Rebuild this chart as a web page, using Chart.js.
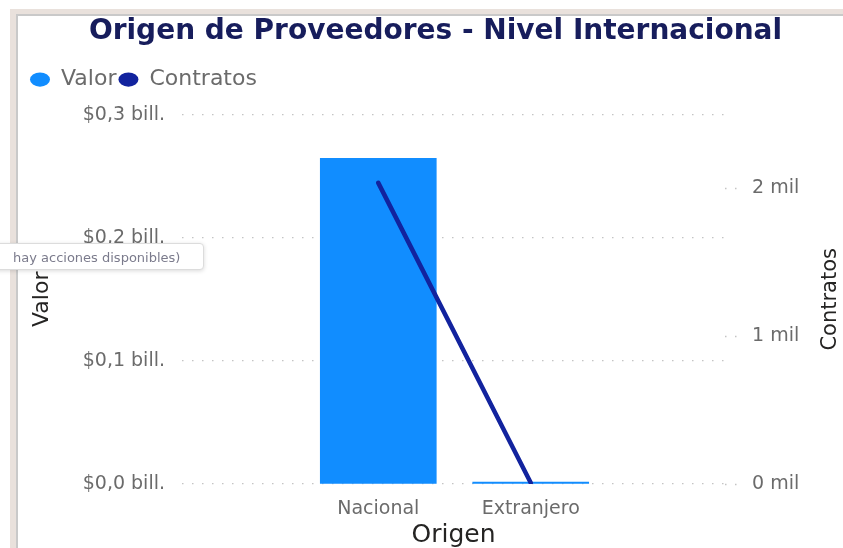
<!DOCTYPE html>
<html lang="es">
<head>
    <meta charset="UTF-8">
    <title>Origen de Proveedores - Nivel Internacional</title>
    <style>
        body {
            margin: 0;
            width: 843px;
            height: 548px;
            overflow: hidden;
            background: #ffffff;
            font-family: "DejaVu Sans", sans-serif;
            position: relative;
        }

        /* marco del visual */
        .marco {
            position: absolute;
            left: 10px;
            top: 9px;
            width: 900px;
            height: 600px;
            border-left: 6px solid #e9e1dc;
            border-top: 5px solid #e9e1dc;
        }

        .marco-interior {
            width: 100%;
            height: 100%;
            border-left: 2px solid #c9c9c9;
            border-top: 2px solid #c9c9c9;
        }

        #origen {
            position: absolute;
            left: 0;
            top: 0;
        }

        /* resto de un tooltip de Power BI */
        .aviso {
            position: absolute;
            left: -30px;
            top: 243px;
            width: 234px;
            height: 27px;
            background: #fff;
            border: 1px solid #dcdcdc;
            border-radius: 4px;
            box-shadow: 0 1px 4px rgba(0, 0, 0, 0.15);
            color: #7b7b8c;
            font-size: 13px;
            line-height: 27px;
            box-sizing: border-box;
            padding-left: 42px;
            white-space: nowrap;
        }
    </style>
    <script src="https://cdn.jsdelivr.net/npm/chart.js"></script>
</head>
<body>
    <div class="marco"><div class="marco-interior"></div></div>
    <canvas id="origen" width="843" height="548"></canvas>
    <div class="aviso">hay acciones disponibles)</div>

    <script>
        // Datos
        const origenes = ['Nacional', 'Extranjero'];
        const valor = [264.4e9, 1.5e9];      // pesos
        const contratos = [2038, 8];

        const ticksValor = [0, 0.1e12, 0.2e12, 0.3e12];
        const ticksContratos = [0, 1000, 2000];

        const AZUL = '#118DFF';
        const AZUL_OSCURO = '#12239E';
        const GRIS = '#6b6b6b';

        // titulo del eje derecho, leido de abajo hacia arriba como en Power BI
        const tituloDerecho = {
            id: 'tituloDerecho',
            afterDraw(chart) {
                const ctx = chart.ctx;
                const area = chart.chartArea;
                ctx.save();
                ctx.translate(831, (area.top + area.bottom) / 2);
                ctx.rotate(-Math.PI / 2);
                ctx.fillStyle = '#252423';
                ctx.font = '21px "DejaVu Sans"';
                ctx.textAlign = 'center';
                ctx.textBaseline = 'middle';
                ctx.fillText('Contratos', 0, 0);
                ctx.restore();
            }
        };

        // mas espacio debajo de la leyenda
        const espacioLeyenda = {
            id: 'espacioLeyenda',
            beforeInit(chart) {
                const fitOriginal = chart.legend.fit;
                chart.legend.fit = function () {
                    fitOriginal.bind(chart.legend)();
                    this.height += 14;
                };
            }
        };

        const ctx = document.getElementById('origen').getContext('2d');
        const grafico = new Chart(ctx, {
            data: {
                labels: origenes,
                datasets: [{
                    type: 'bar',
                    label: 'Valor',
                    data: valor.map((v, i) => ({ x: i, y: v })),
                    backgroundColor: AZUL,
                    borderWidth: 0,
                    barThickness: 116,
                    yAxisID: 'y',
                    order: 2
                }, {
                    type: 'line',
                    label: 'Contratos',
                    data: contratos.map((v, i) => ({ x: i, y: v })),
                    borderColor: AZUL_OSCURO,
                    backgroundColor: AZUL_OSCURO,
                    borderWidth: 4.5,
                    borderCapStyle: 'round',
                    pointRadius: 0,
                    yAxisID: 'y1',
                    order: 1
                }]
            },
            options: {
                responsive: false,
                animation: false,
                layout: {
                    padding: { left: 28, right: 0, top: 0, bottom: 0 }
                },
                plugins: {
                    title: {
                        display: true,
                        text: 'Origen de Proveedores - Nivel Internacional',
                        color: '#171d5c',
                        font: { family: 'DejaVu Sans', size: 28, weight: 'bold' },
                        padding: { top: 15, bottom: 18 }
                    },
                    legend: {
                        align: 'start',
                        labels: {
                            usePointStyle: true,
                            pointStyle: 'circle',
                            pointStyleWidth: 20,
                            boxHeight: 10,
                            padding: 2,
                            color: GRIS,
                            font: { family: 'DejaVu Sans', size: 22 },
                            sort: (a, b) => a.datasetIndex - b.datasetIndex,
                            generateLabels(chart) {
                                const items = Chart.defaults.plugins.legend.labels.generateLabels(chart);
                                items.forEach(it => { it.lineWidth = 0; });
                                return items;
                            }
                        }
                    },
                    tooltip: { enabled: false }
                },
                scales: {
                    x: {
                        type: 'linear',
                        offset: false,
                        min: -1.2876,
                        max: 2.2745,
                        grid: { display: false },
                        border: { display: false },
                        afterBuildTicks(scale) {
                            scale.ticks = origenes.map((c, i) => ({ value: i }));
                        },
                        afterFit(scale) {
                            scale.height = 548 - 484;
                        },
                        ticks: {
                            padding: 6,
                            maxRotation: 0,
                            color: GRIS,
                            font: { family: 'DejaVu Sans', size: 19 },
                            callback: v => origenes[v]
                        },
                        title: {
                            display: true,
                            text: 'Origen',
                            color: '#252423',
                            font: { family: 'DejaVu Sans', size: 25, lineHeight: 1 },
                            padding: { top: 0, bottom: 0 }
                        }
                    },
                    y: {
                        position: 'left',
                        min: 0,
                        max: 0.3e12,
                        afterBuildTicks(scale) {
                            scale.ticks = ticksValor.map(v => ({ value: v }));
                        },
                        afterFit(scale) {
                            scale.width = 182 - 28;
                        },
                        grid: {
                            drawTicks: false,
                            color: '#c4c4c4',
                            lineWidth: 1.3
                        },
                        border: { display: false, dash: [1.5, 8.5] },
                        ticks: {
                            padding: 17,
                            color: GRIS,
                            font: { family: 'DejaVu Sans', size: 19 },
                            callback: v => '$' + (v / 1e12).toFixed(1).replace('.', ',') + ' bill.'
                        },
                        title: {
                            display: true,
                            text: 'Valor',
                            color: '#252423',
                            font: { family: 'DejaVu Sans', size: 22 },
                            padding: { top: 1, bottom: 0 }
                        }
                    },
                    y1: {
                        position: 'right',
                        min: 0,
                        max: 2500,
                        afterBuildTicks(scale) {
                            scale.ticks = ticksContratos.map(v => ({ value: v }));
                        },
                        afterFit(scale) {
                            scale.width = 843 - 725;
                        },
                        grid: {
                            drawOnChartArea: false,
                            drawTicks: true,
                            tickLength: 12,
                            tickColor: '#c4c4c4',
                            tickWidth: 1.3,
                            tickBorderDash: [1.5, 8.5]
                        },
                        border: { display: false },
                        ticks: {
                            padding: 15,
                            color: GRIS,
                            font: { family: 'DejaVu Sans', size: 19 },
                            callback: v => (v / 1000).toFixed(0) + ' mil'
                        }
                    }
                }
            },
            plugins: [tituloDerecho, espacioLeyenda]
        });
    </script>
</body>
</html>
